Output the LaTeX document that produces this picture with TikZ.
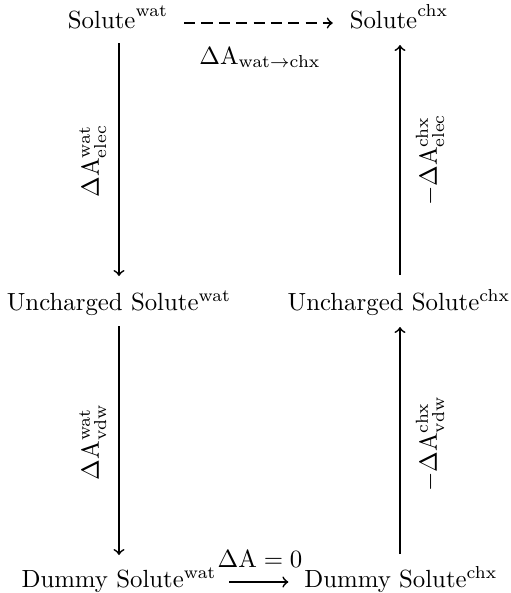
\documentclass[tikz,border=0pt]{standalone}
\usetikzlibrary{calc}
\tikzset{
  obj/.style={inner sep=0pt, outer sep=0pt, anchor=base, font=\fontsize{10}{12}\selectfont},
  lbl/.style={inner sep=0pt, outer sep=0pt, anchor=base, font=\fontsize{10}{12}\selectfont},
  vlbl/.style={lbl, rotate=90},
  arr/.style={->, line width=0.7pt},
  darr/.style={arr, dash pattern=on 4.5pt off 2.5pt}
}
\begin{document}
\begin{tikzpicture}[x=0.403pt, y=-0.403pt]
\useasboundingbox (0,0) rectangle (511,593);
% objects
\node[obj] (sw) at (118,28) {$\mathrm{Solute}^{\mathrm{wat}}$};
\node[obj] (sc) at (399,28) {$\mathrm{Solute}^{\mathrm{chx}}$};
\node[obj] (uw) at (119,310) {Uncharged Solute$^{\mathrm{wat}}$};
\node[obj] (uc) at (399,310) {Uncharged Solute$^{\mathrm{chx}}$};
\node[obj] (dw) at (119,587) {Dummy Solute$^{\mathrm{wat}}$};
\node[obj] (dc) at (401,587) {Dummy Solute$^{\mathrm{chx}}$};
% arrows
\draw[darr] ($(sw.base east)+(16,-5)$) -- ($(sc.base west)+(-17,-5)$);
\draw[arr] ($(sw.base)+(1,15)$) -- ($(uw.base)+(0,-34)$);
\draw[arr] ($(uw.base)+(0,16)$) -- ($(dw.base)+(0,-32)$);
\draw[arr] ($(dc.base)+(-1,-33)$) -- ($(uc.base)+(1,17)$);
\draw[arr] ($(uc.base)+(1,-35)$) -- ($(sc.base)+(1,17)$);
\draw[arr] ($(dw.base east)+(13,-5)$) -- ($(dc.base west)+(-16,-5)$);
% labels
\node[lbl] (l0) at (260,64) {$\Delta\mathrm{A}_{\mathrm{wat}\to\mathrm{chx}}$};
\node[lbl] (l5) at (260,567) {$\Delta\mathrm{A}=0$};
\node[vlbl] (l1) at (99,161) {$\Delta\mathrm{A}^{\mathrm{wat}}_{\mathrm{elec}}$};
\node[vlbl] (l2) at (99,442) {$\Delta\mathrm{A}^{\mathrm{wat}}_{\mathrm{vdw}}$};
\node[vlbl] (l3) at (437,160) {$-\Delta\mathrm{A}^{\mathrm{chx}}_{\mathrm{elec}}$};
\node[vlbl] (l4) at (437,444) {$-\Delta\mathrm{A}^{\mathrm{chx}}_{\mathrm{vdw}}$};
\end{tikzpicture}
\end{document}
